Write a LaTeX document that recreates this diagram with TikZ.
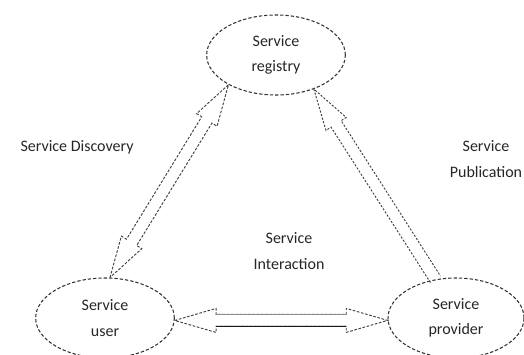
\documentclass[tikz,border=0pt]{standalone}
\usepackage{fontspec}
\setmainfont{Carlito}
\usepackage{tikz}
\usetikzlibrary{shapes.geometric, positioning, calc}

% sizes of the hollow arrows
\def\arrhead{31pt}
\def\arrwide{9pt}
\def\arrshaft{4.5pt}

% hollow arrow with a head at both ends
\newcommand{\dblblock}[4][]{%
  \coordinate (#2-p) at ($(#3)!\arrhead!(#4)$);
  \coordinate (#2-q) at ($(#4)!\arrhead!(#3)$);
  \draw[blockline,#1] (#3)
    -- ($(#2-p)!\arrwide!90:(#4)$)
    -- ($(#2-p)!\arrshaft!90:(#4)$) coordinate (#2-s1)
    -- ($(#2-q)!\arrshaft!-90:(#3)$) coordinate (#2-s2)
    -- ($(#2-q)!\arrwide!-90:(#3)$)
    -- (#4)
    -- ($(#2-q)!\arrwide!90:(#3)$)
    -- ($(#2-q)!\arrshaft!90:(#3)$) coordinate (#2-s3)
    -- ($(#2-p)!\arrshaft!-90:(#4)$) coordinate (#2-s4)
    -- ($(#2-p)!\arrwide!-90:(#4)$)
    -- cycle;}

% hollow arrow with one head
\newcommand{\oneblock}[4][]{%
  \coordinate (#2-q) at ($(#4)!\arrhead!(#3)$);
  \draw[blockline,#1] ($(#3)!\arrshaft!90:(#4)$)
    -- ($(#2-q)!\arrshaft!-90:(#3)$)
    -- ($(#2-q)!\arrwide!-90:(#3)$)
    -- (#4)
    -- ($(#2-q)!\arrwide!90:(#3)$)
    -- ($(#2-q)!\arrshaft!90:(#3)$)
    -- ($(#3)!\arrshaft!-90:(#4)$);}

\begin{document}
\begin{tikzpicture}[
        x=0.75pt, y=-0.75pt,
        font=\fontsize{12}{19}\selectfont,
        svc/.style={ellipse, draw=black!80, line width=0.8pt, dash pattern=on 2.5pt off 1.5pt,
            minimum width=104pt, minimum height=60pt, inner sep=0pt, align=center, text=black!85},
        lbl/.style={align=center, text=black!85, inner sep=0pt},
        blockline/.style={draw=black!75, line width=0.7pt, dash pattern=on 2pt off 1.2pt, line join=miter}
    ]
        \useasboundingbox (0,0) rectangle (524,354);

        % the three parties
        \node[svc] (reg) at (276,55) {Service\\registry};
        \node[svc] (usr) at (105,318) {Service\\user};
        \node[svc, minimum width=102pt] (prov) at (456,318) {Service\\provider};

        % labels
        \node[lbl] (disc) at (77,147) {Service Discovery};
        \node[lbl] (pub) at (486,159) {Service\\Publication};
        \node[lbl] (inter) at (289,251) {Service\\Interaction};

        % arrows between them
        \dblblock{disc-arr}{usr.83}{reg.212}
        \oneblock[dash pattern=on 1.6pt off 1.2pt]{pub-arr}{prov.118}{reg.318}
        \dblblock{int-arr}{usr.-2}{prov.182}
        \draw[solid, black!45, line width=0.6pt] (int-arr-s1) -- (int-arr-s2);
        \draw[solid, black!90, line width=0.8pt] (int-arr-s4) -- (int-arr-s3);

    \end{tikzpicture}
\end{document}
